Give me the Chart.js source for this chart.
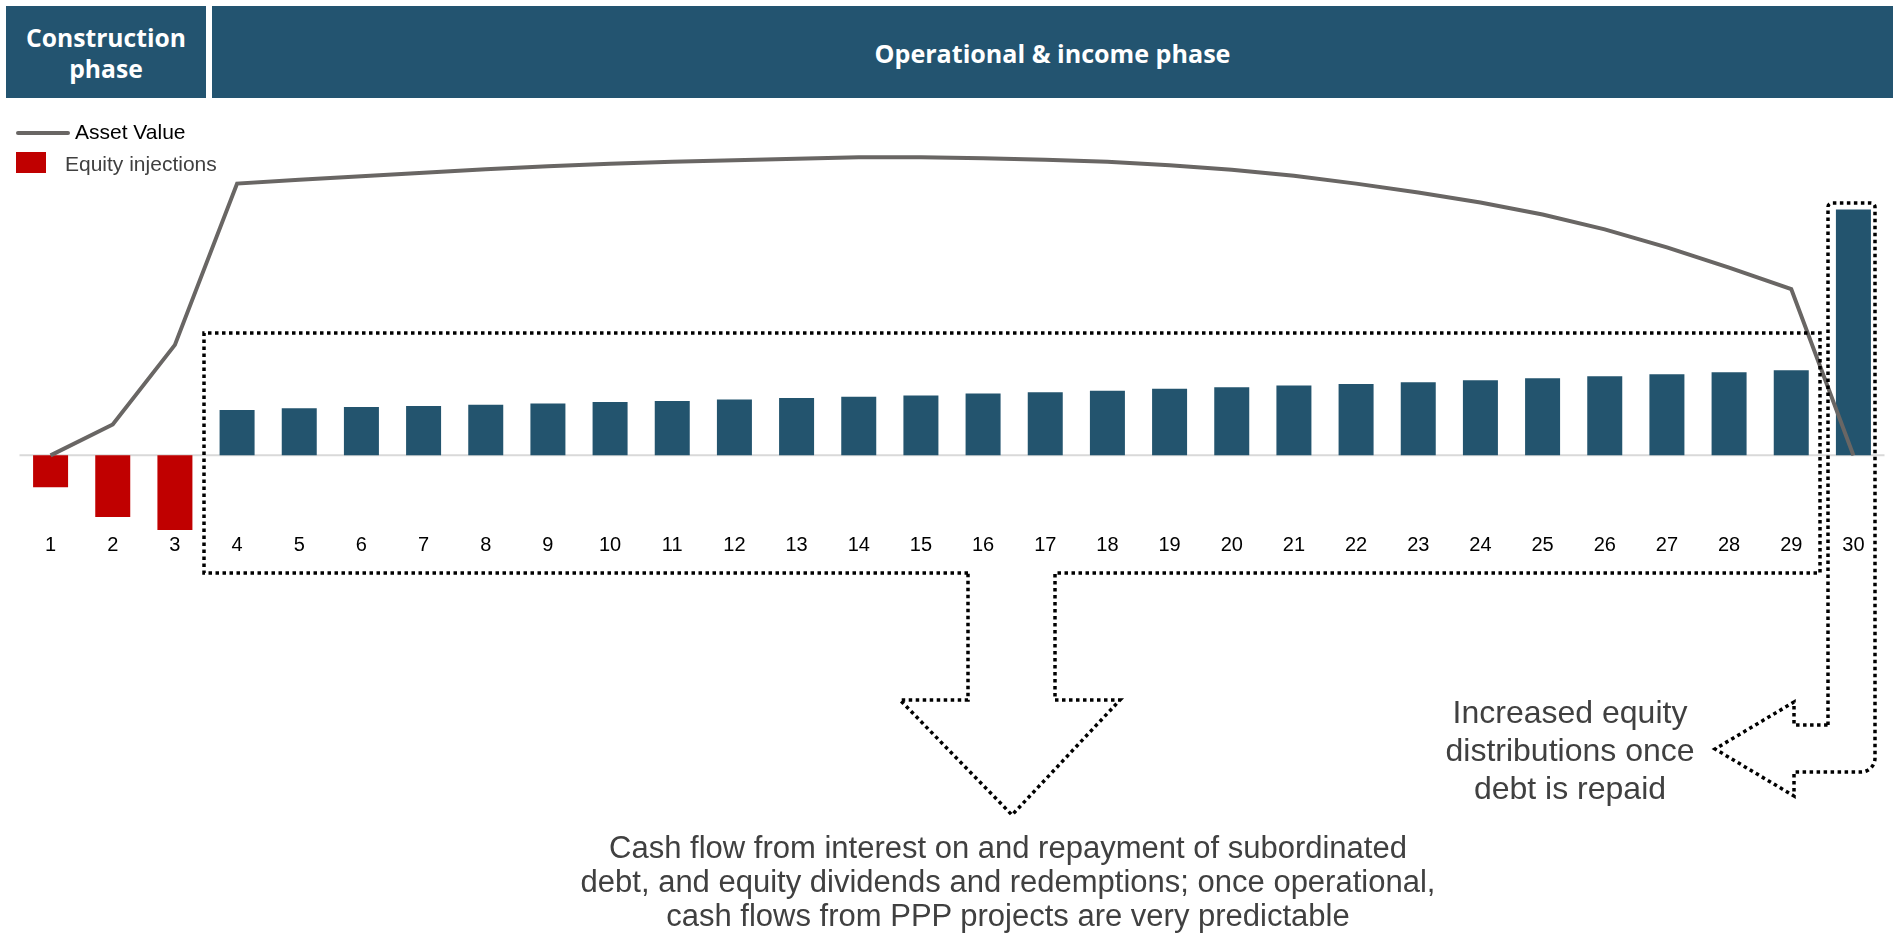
<!DOCTYPE html>
<html>
<head>
<meta charset="utf-8">
<script src="https://cdn.jsdelivr.net/npm/chart.js@4.4.1/dist/chart.umd.min.js"></script>
<style>
  html, body { margin:0; padding:0; background:#fff; }
  body { width:1899px; height:934px; position:relative; overflow:hidden; font-family:'Liberation Sans', Arial, sans-serif; }
  #c { position:absolute; left:0; top:0; }
  .hdr { position:absolute; background:#235470; color:#fff; display:flex; align-items:center; justify-content:center; text-align:center; font-family:'Open Sans', sans-serif; font-weight:700; line-height:31px; box-sizing:border-box; padding-top:2px; }
  .lg { position:absolute; font-size:21px; line-height:24px; white-space:nowrap; }
  .note { position:absolute; color:#404040; text-align:center; white-space:nowrap; }
</style>
</head>
<body>
<canvas id="c" width="1899" height="934"></canvas>

<div class="hdr" id="h1" style="left:6px; top:6px; width:200px; height:92px;">Construction<br>phase</div>
<div class="hdr" id="h2" style="left:212px; top:6px; width:1681px; height:92px;">Operational &amp; income phase</div>

<div style="position:absolute; left:16px; top:131px; width:54px; height:4px; background:#696664; border-radius:2px;"></div>
<div class="lg" style="left:75px; top:120px; color:#000;">Asset Value</div>
<div style="position:absolute; left:16px; top:152px; width:30px; height:21px; background:#c00000;"></div>
<div class="lg" style="left:65px; top:152px; color:#404040;">Equity injections</div>

<div class="note" style="left:1370px; width:400px; top:693px; font-size:32px; line-height:38px;">Increased equity<br>distributions once<br>debt is repaid</div>
<div class="note" style="left:508px; width:1000px; top:831px; font-size:31px; line-height:34px;">Cash flow from interest on and repayment of subordinated<br>debt, and equity dividends and redemptions; once operational,<br>cash flows from PPP projects are very predictable</div>

<script>
// ---- data ----
const years = ['1','2','3','4','5','6','7','8','9','10','11','12','13','14','15','16','17','18','19','20','21','22','23','24','25','26','27','28','29','30'];
const equityInjections = [-32, -62, -75, null, null, null, null, null, null, null, null, null, null, null, null, null, null, null, null, null, null, null, null, null, null, null, null, null, null, null];
const distributions = [null, null, null, 45.5, 47.2, 48.5, 49.5, 50.8, 52.2, 53.5, 54.5, 56.2, 57.5, 58.8, 60.2, 62.2, 63.5, 64.8, 66.8, 68.5, 70.2, 71.8, 73.5, 75.5, 77.5, 79.5, 81.5, 83.5, 85.5, 247];
const assetValue = [0, 31, 111, 273, 277, 280.5, 284, 287.5, 290.5, 293, 295, 296.5, 298, 299.5, 299.5, 298.5, 297, 295, 291.5, 287, 281, 273, 264, 254, 242, 227, 209, 188.5, 167, 0];

// ---- header font fitting ----
function fitSize(text, target, family) {
  const ctx = document.createElement('canvas').getContext('2d');
  ctx.font = '700 100px ' + family;
  return 100 * target / ctx.measureText(text).width;
}
document.getElementById('h1').style.fontSize = fitSize('Construction', 160, "'Open Sans'") + 'px';
document.getElementById('h2').style.fontSize = fitSize('Operational & income phase', 356, "'Open Sans'") + 'px';

// ---- annotation plugin ----
const annot = {
  id: 'annot',
  beforeDatasetsDraw(chart) {
    const ctx = chart.ctx, a = chart.chartArea, y0 = chart.scales.y.getPixelForValue(0);
    ctx.save();
    ctx.strokeStyle = '#d9d9d9';
    ctx.lineWidth = 2;
    ctx.beginPath();
    ctx.moveTo(a.left, y0);
    ctx.lineTo(a.right, y0);
    ctx.stroke();
    ctx.restore();
  },
  afterDraw(chart) {
    const ctx = chart.ctx;
    ctx.save();
    ctx.strokeStyle = '#000';
    ctx.lineWidth = 3.5;
    ctx.setLineDash([3.5, 3.5]);
    ctx.lineJoin = 'miter';
    // big callout with down arrow
    const big = [[968,573],[204,573],[204,333],[1820,333],[1820,573],[1055,573],[1055,700],[1120,700],[1012,815],[900,700],[968,700]];
    ctx.beginPath();
    big.forEach((p,i) => i ? ctx.lineTo(p[0],p[1]) : ctx.moveTo(p[0],p[1]));
    ctx.closePath();
    ctx.stroke();
    // right callout with left arrow
    ctx.beginPath();
    ctx.moveTo(1828, 725);
    ctx.lineTo(1828, 207);
    ctx.arcTo(1828, 203, 1832, 203, 4);
    ctx.lineTo(1871, 203);
    ctx.arcTo(1875, 203, 1875, 207, 4);
    ctx.lineTo(1875, 758);
    ctx.arcTo(1875, 772, 1861, 772, 14);
    ctx.lineTo(1794, 772);
    ctx.lineTo(1794, 796);
    ctx.lineTo(1715, 749);
    ctx.lineTo(1794, 702);
    ctx.lineTo(1794, 725);
    ctx.closePath();
    ctx.stroke();
    ctx.restore();
  }
};

new Chart(document.getElementById('c'), {
  type: 'bar',
  data: {
    labels: years,
    datasets: [
      { type: 'line', label: 'Asset Value', data: assetValue, borderColor: '#696664', borderWidth: 4, pointRadius: 0, tension: 0, fill: false, order: 0 },
      { label: 'Equity injections', data: equityInjections, backgroundColor: '#c00000', barPercentage: 0.563, categoryPercentage: 1, grouped: false, order: 1 },
      { label: 'Distributions', data: distributions, backgroundColor: '#23546e', barPercentage: 0.563, categoryPercentage: 1, grouped: false, order: 1 }
    ]
  },
  options: {
    responsive: false,
    animation: false,
    devicePixelRatio: 1,
    layout: { padding: { top: 100, bottom: 375, left: 19.5, right: 14.5 } },
    plugins: { legend: { display: false }, tooltip: { enabled: false } },
    scales: {
      x: {
        grid: { display: false, drawTicks: false },
        border: { display: false },
        ticks: { color: '#000', padding: 2, font: { family: "'Liberation Sans', Arial, sans-serif", size: 20 }, maxRotation: 0, autoSkip: false }
      },
      y: { display: false, min: -76, max: 357 }
    }
  },
  plugins: [annot]
});
</script>
</body>
</html>
